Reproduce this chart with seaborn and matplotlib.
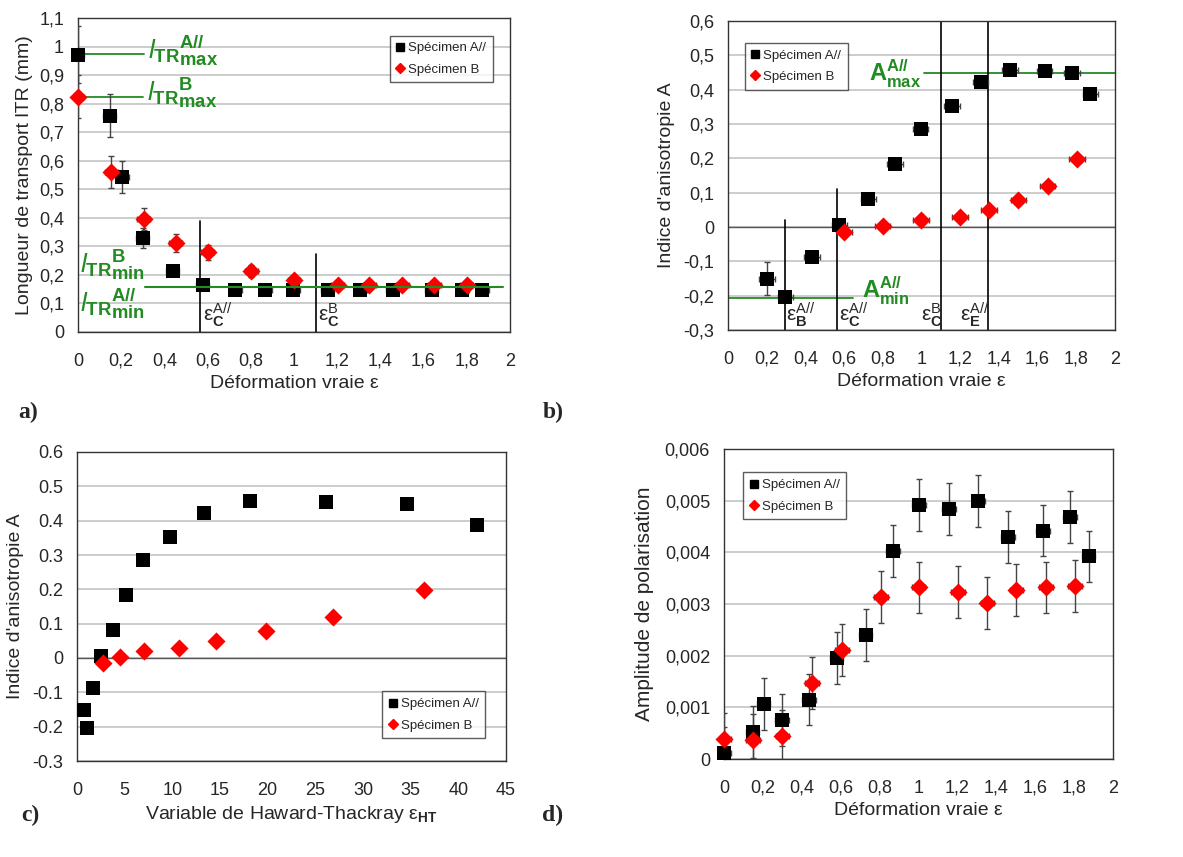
import matplotlib
matplotlib.use("Agg")
import matplotlib.pyplot as plt
from matplotlib.ticker import FuncFormatter, MultipleLocator
from matplotlib.lines import Line2D
import seaborn as sns
import numpy as np

# ---- panel a : transport length ----
a_x_A = [0, 0.146, 0.205, 0.299, 0.438, 0.577, 0.728, 0.867, 0.996, 1.157, 1.306, 1.457, 1.637, 1.778, 1.872]
a_y_A = [0.972, 0.758, 0.543, 0.329, 0.213, 0.165, 0.148, 0.148, 0.148, 0.148, 0.148, 0.148, 0.148, 0.148, 0.148]
a_err_A = [0.1, 0.075, 0.055, 0.035, 0.018, 0.012, 0.01, 0.01, 0.01, 0.01, 0.01, 0.01, 0.01, 0.01, 0.01]
a_x_B = [0, 0.153, 0.304, 0.453, 0.601, 0.802, 1.0, 1.203, 1.349, 1.502, 1.65, 1.80]
a_y_B = [0.824, 0.561, 0.397, 0.312, 0.279, 0.213, 0.181, 0.166, 0.166, 0.166, 0.166, 0.166]
a_err_B = [0.075, 0.057, 0.038, 0.03, 0.027, 0.02, 0.015, 0.012, 0.012, 0.012, 0.012, 0.012]

# ---- panel b / c : anisotropy index ----
b_x_A = [0.201, 0.296, 0.435, 0.575, 0.726, 0.864, 0.995, 1.157, 1.306, 1.458, 1.637, 1.778, 1.873]
b_y_A = [-0.150, -0.203, -0.088, 0.006, 0.082, 0.183, 0.286, 0.353, 0.421, 0.458, 0.453, 0.449, 0.388]
b_err_A = [0.048, 0.005, 0.005, 0.005, 0.005, 0.005, 0.005, 0.005, 0.005, 0.005, 0.005, 0.005, 0.005]
b_x_B = [0.601, 0.799, 0.998, 1.198, 1.349, 1.501, 1.652, 1.804]
b_y_B = [-0.016, 0.004, 0.020, 0.029, 0.049, 0.080, 0.119, 0.199]
c_x_A = [0.70, 1.05, 1.72, 2.56, 3.75, 5.18, 6.93, 9.73, 13.31, 18.1, 26.1, 34.6, 41.95]
c_x_B = [2.77, 4.48, 7.0, 10.68, 14.6, 19.82, 26.86, 36.4]

# ---- panel d : polarisation amplitude ----
d_x_A = [0, 0.147, 0.204, 0.298, 0.437, 0.579, 0.728, 0.868, 1.002, 1.157, 1.308, 1.459, 1.639, 1.779, 1.875]
d_y_A = [0.00012, 0.00052, 0.00106, 0.00075, 0.00115, 0.00195, 0.0024, 0.00403, 0.00492,
         0.00484, 0.00499, 0.0043, 0.00442, 0.00468, 0.00392]
d_x_B = [0, 0.15, 0.30, 0.454, 0.606, 0.806, 1.0, 1.202, 1.354, 1.503, 1.654, 1.805]
d_y_B = [0.00039, 0.00037, 0.00044, 0.00147, 0.00211, 0.00313, 0.00332, 0.00323, 0.00302,
         0.00327, 0.00332, 0.00335]
d_err = 0.0005

sns.set_style("white")
plt.rcParams['font.family'] = ['Liberation Sans', 'DejaVu Sans']
plt.rcParams['mathtext.fontset'] = 'custom'
plt.rcParams['mathtext.rm'] = 'Liberation Sans'
plt.rcParams['mathtext.it'] = 'Liberation Sans:italic'
plt.rcParams['mathtext.bf'] = 'Liberation Sans:bold'

W, H = 1183, 857
fig = plt.figure(figsize=(W / 100, H / 100), dpi=100)


def rect(l, r, t, b):
    return [l / W, 1 - b / H, (r - l) / W, (b - t) / H]


GREEN = '#228B22'
GRID = '#c8c8c8'


def comma(v, p):
    if abs(v) < 1e-12:
        return '0'
    return ('%g' % round(v, 6)).replace('.', ',')


def style(ax, xlim, xstep, ylim, ystep, fmt=comma):
    ax.set_xlim(*xlim)
    ax.set_ylim(*ylim)
    ax.xaxis.set_major_locator(MultipleLocator(xstep))
    ax.yaxis.set_major_locator(MultipleLocator(ystep))
    ax.xaxis.set_major_formatter(FuncFormatter(fmt))
    ax.yaxis.set_major_formatter(FuncFormatter(fmt))
    ax.grid(axis='y', color=GRID, lw=1.3)
    ax.grid(axis='x', visible=False)
    ax.set_axisbelow(True)
    ax.tick_params(axis='x', direction='in', length=4, width=0.8, pad=15, labelsize=13, color='#444')
    ax.tick_params(axis='y', length=0, pad=10, labelsize=13)
    for s in ax.spines.values():
        s.set_color('#333')
        s.set_linewidth(1)


def points(ax, xA, yA, xB, yB):
    sns.scatterplot(x=xA, y=yA, marker='s', color='black', s=100, edgecolor='black',
                    linewidth=0, ax=ax, zorder=4, legend=False, clip_on=False)
    sns.scatterplot(x=xB, y=yB, marker='D', color='red', s=85, edgecolor='red',
                    linewidth=0, ax=ax, zorder=5, legend=False, clip_on=False)


def legend(ax, **kw):
    handles = [Line2D([], [], ls='none', marker='s', color='black', markersize=6, label='Spécimen A//'),
               Line2D([], [], ls='none', marker='D', color='red', markersize=5, label='Spécimen B')]
    lg = ax.legend(handles=handles, fontsize=9.5, frameon=True, fancybox=False, edgecolor='#333',
                   handlelength=0.6, handletextpad=0.3, borderpad=0.5, labelspacing=0.7, **kw)
    lg.get_frame().set_linewidth(1)


def errs(ax, x, y, yerr, xerr):
    ax.errorbar(x, y, yerr=yerr, xerr=xerr, fmt='none', ecolor='#444', elinewidth=1,
                capsize=2.5, capthick=1, zorder=3)


def eps(sub, sup):
    return r'$\mathrm{ε}_{\mathbf{%s}}^{\mathrm{%s}}$' % (sub, sup)


# ---------------- a ----------------
ax = fig.add_axes(rect(78, 510, 18, 332))
style(ax, (0, 2), 0.2, (0, 1.1), 0.1)
errs(ax, a_x_A, a_y_A, a_err_A, 0.03)
errs(ax, a_x_B, a_y_B, a_err_B, 0.03)
points(ax, a_x_A, a_y_A, a_x_B, a_y_B)
ax.plot([0, 0.304], [0.974, 0.974], color=GREEN, lw=1.3, zorder=2)
ax.plot([0, 0.30], [0.824, 0.824], color=GREEN, lw=1.3, zorder=2)
ax.plot([0.311, 1.966], [0.158, 0.158], color=GREEN, lw=1.5, zorder=6)
ax.plot([0.566, 0.566], [0, 0.39], color='black', lw=1.2)
ax.plot([1.103, 1.103], [0, 0.275], color='black', lw=1.2)
ax.text(0.325, 0.985, r'$\mathit{l}_{\mathbf{TR}}{}^{\mathbf{A//}}_{\mathbf{max}}$', color=GREEN,
        fontsize=19, va='center', ha='left')
ax.text(0.32, 0.835, r'$\mathit{l}_{\mathbf{TR}}{}^{\mathbf{B}}_{\mathbf{max}}$', color=GREEN,
        fontsize=19, va='center', ha='left')
ax.text(0.01, 0.23, r'$\mathit{l}_{\mathbf{TR}}{}^{\mathbf{B}}_{\mathbf{min}}$', color=GREEN,
        fontsize=19, va='center', ha='left')
ax.text(0.01, 0.10, r'$\mathit{l}_{\mathbf{TR}}{}^{\mathbf{A//}}_{\mathbf{min}}$', color=GREEN,
        fontsize=19, va='center', ha='left')
ax.text(0.577, 0.012, eps('C', 'A//'), fontsize=15, va='bottom', ha='left')
ax.text(1.113, 0.012, eps('C', 'B'), fontsize=15, va='bottom', ha='left')
ax.set_xlabel('Déformation vraie ε', fontsize=14)
ax.set_ylabel('Longueur de transport lTR (mm)', fontsize=14, labelpad=4)
legend(ax, loc='upper right', bbox_to_anchor=(0.975, 0.965))

# ---------------- b ----------------
ax = fig.add_axes(rect(728, 1115, 21, 330))
style(ax, (0, 2), 0.2, (-0.3, 0.6), 0.1)
ax.axhline(0, color='#555', lw=1, zorder=1)
errs(ax, b_x_A, b_y_A, b_err_A, 0.04)
errs(ax, b_x_B, b_y_B, 0.005, 0.04)
points(ax, b_x_A, b_y_A, b_x_B, b_y_B)
ax.plot([1.014, 2], [0.449, 0.449], color=GREEN, lw=1.3, zorder=2)
ax.plot([0, 0.644], [-0.206, -0.206], color=GREEN, lw=1.3, zorder=2)
ax.plot([0.296, 0.296], [-0.3, 0.02], color='black', lw=1.2)
ax.plot([0.565, 0.565], [-0.3, 0.11], color='black', lw=1.2)
ax.axvline(1.103, color='black', lw=1.2)
ax.axvline(1.344, color='black', lw=1.2)
ax.text(0.998, 0.447, r'$\mathbf{A}^{\mathbf{A//}}_{\mathbf{max}}$', color=GREEN, fontsize=17,
        va='center', ha='right')
ax.text(0.69, -0.185, r'$\mathbf{A}^{\mathbf{A//}}_{\mathbf{min}}$', color=GREEN, fontsize=17,
        va='center', ha='left')
ax.text(0.30, -0.298, eps('B', 'A//'), fontsize=15, va='bottom', ha='left')
ax.text(0.575, -0.298, eps('C', 'A//'), fontsize=15, va='bottom', ha='left')
ax.text(0.995, -0.298, eps('C', 'B'), fontsize=15, va='bottom', ha='left')
ax.text(1.20, -0.298, eps('E', 'A//'), fontsize=15, va='bottom', ha='left')
ax.set_xlabel('Déformation vraie ε', fontsize=14)
ax.set_ylabel("Indice d'anisotropie A", fontsize=14, labelpad=6)
legend(ax, loc='upper left', bbox_to_anchor=(0.026, 0.951))

# ---------------- c ----------------
ax = fig.add_axes(rect(77, 506, 452, 761))
style(ax, (0, 45), 5, (-0.3, 0.6), 0.1, fmt=lambda v, p: '0' if abs(v) < 1e-12 else '%g' % round(v, 6))
ax.axhline(0, color='#555', lw=1, zorder=1)
points(ax, c_x_A, b_y_A, c_x_B, b_y_B)
ax.set_xlabel(r'Variable de Haward-Thackray ε$_{\mathbf{HT}}$', fontsize=14)
ax.set_ylabel("Indice d'anisotropie A", fontsize=14, labelpad=6)
legend(ax, loc='lower right', bbox_to_anchor=(0.967, 0.052))

# ---------------- d ----------------
ax = fig.add_axes(rect(724, 1113, 449, 759))
style(ax, (0, 2), 0.2, (0, 0.006), 0.001)
errs(ax, d_x_A, d_y_A, d_err, 0.035)
errs(ax, d_x_B, d_y_B, d_err, 0.035)
points(ax, d_x_A, d_y_A, d_x_B, d_y_B)
ax.set_xlabel('Déformation vraie ε', fontsize=14)
ax.set_ylabel('Amplitude de polarisation', fontsize=15, labelpad=8)
legend(ax, loc='upper left', bbox_to_anchor=(0.033, 0.946))

# panel letters
for lab, x, y in [('a)', 28, 412), ('b)', 553, 412), ('c)', 30, 815), ('d)', 553, 815)]:
    fig.text(x / W, 1 - y / H, lab, fontsize=17, fontweight='bold', family='Liberation Serif',
             ha='center', va='center')

fig.savefig('out.png', dpi=100)
